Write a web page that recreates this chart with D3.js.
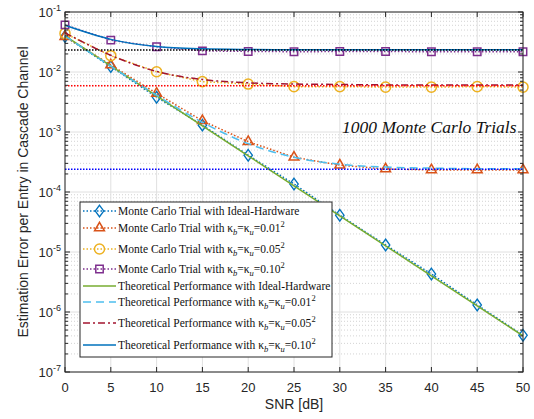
<!DOCTYPE html>
<html>
<head>
<meta charset="utf-8">
<script src="https://cdn.jsdelivr.net/npm/d3@7"></script>
<style>
  body { margin: 0; background: #fff; }
</style>
</head>
<body>
<div id="chart"></div>
<script>
// data
var snr = [0, 5, 10, 15, 20, 25, 30, 35, 40, 45, 50];

// Monte Carlo trials (markers + dotted line)
var mcIdeal = [0.039, 0.0123, 0.0038, 0.0013, 0.00041, 0.000136, 0.000041, 0.0000131, 0.0000043, 0.00000131, 0.00000041];
var mc001   = [0.039, 0.0131, 0.0044, 0.00154, 0.00069, 0.00038, 0.00028, 0.000242, 0.000233, 0.000233, 0.000233];
var mc005   = [0.044, 0.0187, 0.0101, 0.0069, 0.0063, 0.0057, 0.0057, 0.0056, 0.0056, 0.0057, 0.0056];
var mc010   = [0.061, 0.034, 0.0264, 0.0225, 0.022, 0.0218, 0.0219, 0.0219, 0.0218, 0.0218, 0.0218];

// theoretical performance curves
var thIdeal = [0.04, 0.0127, 0.004, 0.00127, 0.0004, 0.000127, 0.00004, 0.0000127, 0.000004, 0.00000127, 0.0000004];
var th001   = [0.04, 0.0125, 0.0041, 0.00145, 0.00064, 0.00038, 0.00029, 0.00026, 0.00025, 0.000245, 0.000245];
var th005   = [0.045, 0.019, 0.0102, 0.0075, 0.0066, 0.0063, 0.0062, 0.0061, 0.0061, 0.0061, 0.0061];
var th010   = [0.06, 0.035, 0.0265, 0.0243, 0.0237, 0.0235, 0.0234, 0.0234, 0.0234, 0.0234, 0.0234];

// error floors (horizontal dotted lines)
var floorVals = [0.0232, 0.0059, 0.00024];
var floorColors = ['#000000', '#ff0000', '#0000ff'];

var xTicks = [0, 5, 10, 15, 20, 25, 30, 35, 40, 45, 50];
var yExps = [-7, -6, -5, -4, -3, -2, -1];

var W = 534, H = 419;
var pLeft = 65, pRight = 523, pTop = 12, pBottom = 372;

var svg = d3.select('#chart').append('svg')
  .attr('width', W).attr('height', H)
  .style('font-family', '"Liberation Sans", Arial, sans-serif');

var x = d3.scaleLinear().domain([0, 50]).range([pLeft, pRight]);
var y = d3.scaleLog().domain([1e-7, 1e-1]).range([pBottom, pTop]);

// grid: minor dotted, major solid
var minors = [];
yExps.slice(0, -1).forEach(function(e) {
  for (var k = 2; k <= 9; k++) minors.push(k * Math.pow(10, e));
});
svg.append('g').selectAll('line').data(minors).enter().append('line')
  .attr('x1', pLeft).attr('x2', pRight)
  .attr('y1', d => y(d)).attr('y2', d => y(d))
  .attr('stroke', '#c8c8c8').attr('stroke-width', 0.8)
  .attr('stroke-dasharray', '1,2');
svg.append('g').selectAll('line').data(yExps).enter().append('line')
  .attr('x1', pLeft).attr('x2', pRight)
  .attr('y1', d => y(Math.pow(10, d))).attr('y2', d => y(Math.pow(10, d)))
  .attr('stroke', '#e0e0e0').attr('stroke-width', 1);
svg.append('g').selectAll('line').data(xTicks).enter().append('line')
  .attr('y1', pTop).attr('y2', pBottom)
  .attr('x1', d => x(d)).attr('x2', d => x(d))
  .attr('stroke', '#e0e0e0').attr('stroke-width', 1);

// series
var line = d3.line().x((d, i) => x(snr[i])).y(d => y(d));
var curve = d3.line().x((d, i) => x(snr[i])).y(d => y(d)).curve(d3.curveMonotoneX);

var mcSeries = [
  { vals: mcIdeal, color: '#0072BD', marker: 'diamond' },
  { vals: mc001,   color: '#D95319', marker: 'triangle' },
  { vals: mc005,   color: '#EDB120', marker: 'circle' },
  { vals: mc010,   color: '#7E2F8E', marker: 'square' }
];
var thSeries = [
  { vals: thIdeal, color: '#77AC30', dash: null },
  { vals: th001,   color: '#4DBEEE', dash: '8,5' },
  { vals: th005,   color: '#A2142F', dash: '7,3,2,3' },
  { vals: th010,   color: '#0072BD', dash: null }
];

var symbols = {
  diamond: d3.symbol().type(d3.symbolDiamond2 || d3.symbolDiamond).size(70),
  triangle: d3.symbol().type(d3.symbolTriangle2 || d3.symbolTriangle).size(70),
  circle: d3.symbol().type(d3.symbolCircle2 || d3.symbolCircle).size(80),
  square: d3.symbol().type(d3.symbolSquare2 || d3.symbolSquare).size(70)
};

function drawMarker(g, type, color, cx, cy) {
  return g.append('path')
    .attr('d', symbols[type]())
    .attr('fill', 'none').attr('stroke', color).attr('stroke-width', 1.5)
    .attr('transform', 'translate(' + cx + ',' + cy + ')' + (type === 'diamond' ? ' scale(0.8,1.1)' : ''));
}

var plot = svg.append('g');
mcSeries.forEach(function(s) {
  plot.append('path').datum(s.vals)
    .attr('d', line).attr('fill', 'none')
    .attr('stroke', s.color).attr('stroke-width', 1.5)
    .attr('stroke-dasharray', '1.5,2');
  s.vals.forEach(function(v, i) { drawMarker(plot, s.marker, s.color, x(snr[i]), y(v)); });
});
thSeries.forEach(function(s) {
  plot.append('path').datum(s.vals)
    .attr('d', curve).attr('fill', 'none')
    .attr('stroke', s.color).attr('stroke-width', 1.5)
    .attr('stroke-dasharray', s.dash);
});
floorVals.forEach(function(v, i) {
  plot.append('line')
    .attr('x1', x(0)).attr('x2', x(50))
    .attr('y1', y(v)).attr('y2', y(v))
    .attr('stroke', floorColors[i]).attr('stroke-width', 1.5)
    .attr('stroke-dasharray', '1.5,1.5');
});

// axes box and ticks (inside, on all sides)
var ax = svg.append('g').attr('stroke', '#262626').attr('stroke-width', 1);
ax.append('rect').attr('x', pLeft).attr('y', pTop)
  .attr('width', pRight - pLeft).attr('height', pBottom - pTop).attr('fill', 'none');
xTicks.forEach(function(t) {
  ax.append('line').attr('x1', x(t)).attr('x2', x(t)).attr('y1', pBottom).attr('y2', pBottom - 5);
  ax.append('line').attr('x1', x(t)).attr('x2', x(t)).attr('y1', pTop).attr('y2', pTop + 5);
});
yExps.forEach(function(e) {
  var yy = y(Math.pow(10, e));
  ax.append('line').attr('x1', pLeft).attr('x2', pLeft + 5).attr('y1', yy).attr('y2', yy);
  ax.append('line').attr('x1', pRight).attr('x2', pRight - 5).attr('y1', yy).attr('y2', yy);
});
minors.forEach(function(m) {
  var yy = y(m);
  ax.append('line').attr('x1', pLeft).attr('x2', pLeft + 3).attr('y1', yy).attr('y2', yy);
  ax.append('line').attr('x1', pRight).attr('x2', pRight - 3).attr('y1', yy).attr('y2', yy);
});

// tick labels
svg.append('g').selectAll('text').data(xTicks).enter().append('text')
  .attr('x', d => x(d)).attr('y', pBottom + 20)
  .attr('text-anchor', 'middle').attr('font-size', 13).attr('fill', '#262626')
  .text(d => d);
yExps.forEach(function(e) {
  var t = svg.append('text')
    .attr('x', pLeft - 4).attr('y', y(Math.pow(10, e)) + 5)
    .attr('text-anchor', 'end').attr('font-size', 13).attr('fill', '#262626');
  t.append('tspan').text('10');
  t.append('tspan').attr('dy', -6).attr('font-size', 9).text(e);
});

// axis titles
svg.append('text')
  .attr('x', (pLeft + pRight) / 2).attr('y', 409)
  .attr('text-anchor', 'middle').attr('font-size', 14).attr('fill', '#262626')
  .text('SNR [dB]');
svg.append('text')
  .attr('transform', 'translate(28,' + ((pTop + pBottom) / 2) + ') rotate(-90)')
  .attr('text-anchor', 'middle').attr('font-size', 14).attr('fill', '#262626')
  .text('Estimation Error per Entry in Cascade Channel');

// annotation
svg.append('text')
  .attr('x', 342).attr('y', 133)
  .attr('font-family', '"Liberation Serif", "Times New Roman", serif')
  .attr('font-style', 'italic').attr('font-size', 17.5).attr('fill', '#111')
  .text('1000 Monte Carlo Trials');

// legend
var legendRows = [
  { kind: 'mc', s: 0, yc: 211, label: 'Monte Carlo Trial with ', kappa: null },
  { kind: 'mc', s: 1, yc: 228, label: 'Monte Carlo Trial with ', kappa: '0.01' },
  { kind: 'mc', s: 2, yc: 249, label: 'Monte Carlo Trial with ', kappa: '0.05' },
  { kind: 'mc', s: 3, yc: 269, label: 'Monte Carlo Trial with ', kappa: '0.10' },
  { kind: 'th', s: 0, yc: 286, label: 'Theoretical Performance with ', kappa: null },
  { kind: 'th', s: 1, yc: 302, label: 'Theoretical Performance with ', kappa: '0.01' },
  { kind: 'th', s: 2, yc: 323, label: 'Theoretical Performance with ', kappa: '0.05' },
  { kind: 'th', s: 3, yc: 345, label: 'Theoretical Performance with ', kappa: '0.10' }
];
var lg = svg.append('g');
lg.append('rect').attr('x', 80).attr('y', 202).attr('width', 252).attr('height', 155)
  .attr('fill', '#fff').attr('stroke', '#262626').attr('stroke-width', 1);
legendRows.forEach(function(r) {
  if (r.kind === 'mc') {
    var s = mcSeries[r.s];
    lg.append('line').attr('x1', 83).attr('x2', 116).attr('y1', r.yc).attr('y2', r.yc)
      .attr('stroke', s.color).attr('stroke-width', 1.5).attr('stroke-dasharray', '1.5,2');
    drawMarker(lg, s.marker, s.color, 99.5, r.yc);
  } else {
    var t = thSeries[r.s];
    lg.append('line').attr('x1', 83).attr('x2', 116).attr('y1', r.yc).attr('y2', r.yc)
      .attr('stroke', t.color).attr('stroke-width', 1.5).attr('stroke-dasharray', t.dash);
  }
  var tx = lg.append('text').attr('x', 118).attr('y', r.yc + 4)
    .attr('font-family', '"Liberation Serif", "Times New Roman", serif')
    .attr('font-size', 11.5).attr('fill', '#111');
  if (!r.kappa) {
    tx.text(r.label + 'Ideal-Hardware');
  } else {
    tx.append('tspan').text(r.label + '\u03BA');
    tx.append('tspan').attr('dy', 3).attr('font-size', 8.5).attr('font-style', 'italic').text('b');
    tx.append('tspan').attr('dy', -3).text('=\u03BA');
    tx.append('tspan').attr('dy', 3).attr('font-size', 8.5).attr('font-style', 'italic').text('u');
    tx.append('tspan').attr('dy', -3).text('=' + r.kappa);
    tx.append('tspan').attr('dy', -5).attr('font-size', 8.5).text('2');
  }
});
</script>
</body>
</html>
